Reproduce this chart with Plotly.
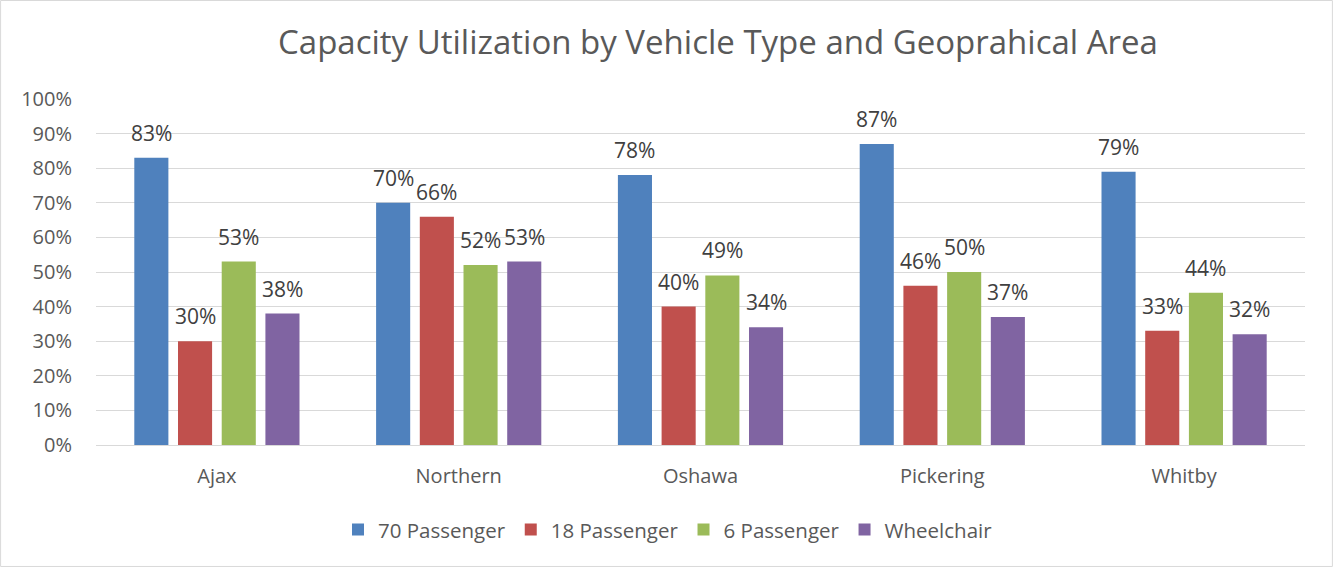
import plotly.graph_objects as go

categories = ["Ajax", "Northern", "Oshawa", "Pickering", "Whitby"]
series_names = ["70 Passenger", "18 Passenger", "6 Passenger", "Wheelchair"]
vals_70 = [0.83, 0.70, 0.78, 0.87, 0.79]
vals_18 = [0.30, 0.66, 0.40, 0.46, 0.33]
vals_6 = [0.53, 0.52, 0.49, 0.50, 0.44]
vals_wc = [0.38, 0.53, 0.34, 0.37, 0.32]
colors = ["#4F81BD", "#C0504D", "#9BBB59", "#8064A2"]

series = [vals_70, vals_18, vals_6, vals_wc]
FONT = "Open Sans"
TXT = "#595959"
BARGAP = 0.277
GROUPGAP = 0.22

fig = go.Figure()
for name, vals, col in zip(series_names, series, colors):
    fig.add_trace(go.Bar(x=categories, y=vals, name=name, marker=dict(color=col, line=dict(width=0))))

# data labels above bars
n = len(series)
slot = (1 - BARGAP) / n
annotations = []
for si, vals in enumerate(series):
    off = (si - (n - 1) / 2) * slot
    for ci, v in enumerate(vals):
        annotations.append(dict(x=ci + off, y=v, xref="x", yref="y", text=f"{round(v*100)}%",
                                showarrow=False, yanchor="bottom", yshift=9,
                                font=dict(family=FONT, size=21, color="#404040")))

fig.update_layout(
    width=1333, height=567,
    barmode="group", bargap=BARGAP, bargroupgap=GROUPGAP,
    plot_bgcolor="white", paper_bgcolor="white",
    margin=dict(l=96, r=28, t=99, b=122),
    font=dict(family=FONT, size=20, color=TXT),
    title=dict(text="Capacity Utilization by Vehicle Type and Geoprahical Area",
               x=718/1333, xanchor="center", y=1 - 42/567, yanchor="middle",
               font=dict(family=FONT, size=33, color=TXT)),
    legend=dict(orientation="h", x=(668-96)/1209, xanchor="center", y=-0.245, yanchor="middle",
                font=dict(family=FONT, size=20.5, color=TXT), itemwidth=30, traceorder="normal"),
    annotations=annotations,
    shapes=[dict(type="rect", xref="paper", yref="paper",
                 x0=-96/1209 + 0.0005, x1=1 + 28/1209 - 0.0005,
                 y0=-122/346 + 0.0015, y1=1 + 99/346 - 0.0015,
                 line=dict(color="#D9D9D9", width=1))],
)
fig.update_yaxes(range=[0, 1], dtick=0.1, tickformat=".0%", showgrid=True, gridcolor="#D9D9D9",
                 gridwidth=1, zeroline=False, showline=False, ticks="", ticklabelstandoff=23,
                 tickfont=dict(family=FONT, size=20, color=TXT))
fig.update_xaxes(showline=True, linecolor="#D9D9D9", linewidth=1, ticks="", ticklabelstandoff=13,
                 tickfont=dict(family=FONT, size=20, color=TXT))

fig.write_html("out.html", config={"displayModeBar": False},
               post_script="document.body.style.margin='0';document.body.style.overflow='hidden';")
